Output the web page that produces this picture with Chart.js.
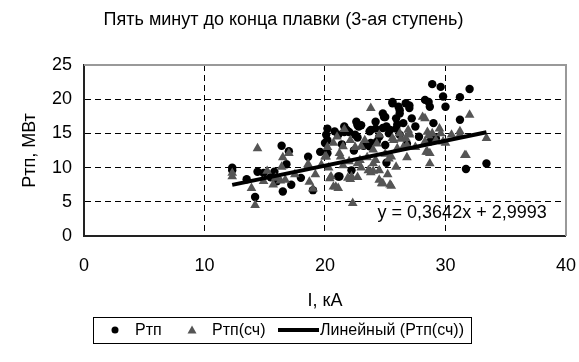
<!DOCTYPE html>
<html>
<head>
<meta charset="utf-8">
<script src="https://cdn.jsdelivr.net/npm/chart.js@4/dist/chart.umd.min.js"></script>
<style>
    html, body { margin: 0; padding: 0; background: #ffffff; }
    #wrap { width: 579px; height: 362px; position: relative; }
</style>
</head>
<body>
<div id="wrap"><canvas id="chart"></canvas></div>
<script>
// Ртп (circles)
const ptpX = [12.3, 12.3, 14.4, 14.9, 14.2, 16.4, 17.0, 16.5, 15.8, 15.5, 16.0, 18.6, 19.0, 19.6, 20.2,
    20.2, 20.0, 20.2, 20.1, 20.8, 21.1, 21.6, 22.0, 22.6, 22.8, 23.7, 23.8, 24.8, 25.0, 25.6,
    26.1, 26.2, 26.5, 27.0, 25.4, 25.9, 21.2, 22.2, 21.1, 21.6, 23.0, 23.8, 24.2, 24.5, 24.8,
    24.9, 25.6, 25.9, 26.2, 25.3, 26.2, 26.7, 27.0, 28.3, 28.6, 28.7, 28.9, 29.6, 29.8, 30.0,
    31.2, 31.2, 32.0, 31.7, 33.4, 28.7, 25.1, 29.2, 22.4, 23.2, 21.8, 22.7, 25.1, 26.0, 24.2,
    26.8, 27.5, 27.8, 24.3, 22.7, 21.4, 17.2, 18.0, 13.5, 16.8, 22.5, 27.2, 29.0, 23.7, 25.0];
const ptpY = [10.0, 9.6, 9.4, 9.2, 5.7, 13.2, 12.4, 6.5, 9.4, 8.6, 8.0, 11.6, 6.7, 12.3, 15.7,
    14.0, 13.6, 12.1, 14.8, 15.3, 14.8, 16.0, 15.2, 16.7, 16.0, 15.3, 13.6, 17.9, 17.4, 19.4,
    18.9, 17.9, 16.5, 19.1, 15.5, 15.7, 8.7, 9.6, 8.7, 15.2, 16.2, 15.5, 16.7, 14.5, 15.8,
    17.4, 19.6, 17.2, 18.4, 15.0, 14.8, 19.4, 18.7, 19.9, 19.6, 18.9, 22.2, 21.8, 20.4, 18.9,
    17.0, 20.3, 21.5, 9.8, 10.6, 13.8, 10.7, 14.3, 12.5, 13.2, 15.5, 16.2, 16.0, 16.3, 15.7,
    13.5, 16.0, 14.5, 13.8, 14.4, 13.4, 7.5, 8.5, 8.3, 10.5, 14.8, 17.2, 16.5, 13.1, 13.3];

// Ртп(сч) (triangles)
const ptpCalcX = [12.3, 12.3, 14.4, 13.9, 14.2, 14.9, 15.7, 15.9, 16.3, 16.7, 16.4, 16.5, 17.0, 18.7, 19.0,
    18.6, 19.7, 20.2, 20.5, 23.8, 21.6, 20.7, 21.2, 21.1, 22.3, 21.9, 22.7, 22.9, 23.3, 24.0,
    24.5, 24.8, 25.5, 25.2, 25.9, 25.5, 26.5, 26.9, 27.0, 22.1, 24.0, 28.3, 32.0, 29.5, 28.9,
    28.6, 31.2, 33.4, 31.7, 28.5, 28.7, 30.0, 27.0, 20.0, 20.4, 22.1, 24.7, 25.4, 24.0, 28.1,
    28.3, 28.7, 29.6, 31.2, 31.6, 20.7, 23.0, 23.5, 24.3, 25.0, 26.0, 26.3, 27.5, 21.5, 22.5,
    23.8, 26.8, 25.7, 29.2, 30.5, 22.0, 17.5, 15.2, 19.2, 24.5, 21.0, 20.3, 21.3, 21.5, 22.2,
    22.7, 23.0, 23.6, 24.2, 24.5, 25.3, 25.6, 26.2, 26.7, 26.8, 28.5, 28.4, 29.8, 18.6, 20.1,
    20.9];
const ptpCalcY = [8.7, 9.2, 12.8, 7.0, 4.5, 8.0, 7.5, 8.5, 8.1, 8.2, 10.1, 11.5, 12.1, 7.9, 6.9,
    10.5, 10.4, 13.0, 8.7, 18.7, 15.6, 13.6, 12.1, 7.0, 4.8, 8.5, 8.6, 11.1, 14.0, 10.6,
    9.6, 7.7, 7.3, 9.0, 10.1, 11.6, 13.0, 15.5, 14.8, 14.0, 12.6, 17.2, 17.7, 15.7, 15.0,
    14.7, 14.8, 14.3, 11.8, 12.3, 10.6, 13.6, 15.0, 11.6, 8.4, 8.3, 7.7, 7.5, 9.5, 17.4,
    13.8, 12.1, 15.0, 15.3, 11.8, 7.2, 10.0, 11.5, 13.5, 12.0, 12.8, 14.2, 13.0, 10.3, 13.0,
    9.3, 11.5, 14.0, 14.0, 14.8, 10.9, 9.0, 9.5, 9.0, 14.8, 14.5, 10.0, 11.6, 13.1, 8.7,
    10.6, 13.1, 9.6, 11.1, 8.2, 11.3, 14.3, 15.0, 14.3, 13.3, 15.2, 12.3, 13.8, 10.3, 11.6,
    7.2];

// Линейный (Ртп(сч)): y = 0,3642x + 2,9993
const trendSlope = 0.3642;
const trendIntercept = 2.9993;

const xTicks = [0, 10, 20, 30, 40];
const yTicks = [0, 5, 10, 15, 20, 25];

const FONT = "'Liberation Sans', Arial, sans-serif";

function toPoints(xs, ys) {
    return xs.map((x, i) => ({ x: x, y: ys[i] }));
}

const trendMinX = Math.min(...ptpCalcX);
const trendMaxX = Math.max(...ptpCalcX);
const trendData = [trendMinX, trendMaxX].map(x => ({ x: x, y: trendSlope * x + trendIntercept }));

// Gridlines at the outer edges are replaced by the frame
function gridColor(edges) {
    return function(c) {
        if (c.tick && edges.indexOf(c.tick.value) !== -1) return 'rgba(0,0,0,0)';
        return '#000000';
    };
}

// Gray frame on top and right side of the plot area
const framePlugin = {
    id: 'frame',
    beforeDatasetsDraw(chart) {
        const { ctx, chartArea: a } = chart;
        ctx.save();
        ctx.strokeStyle = '#999999';
        ctx.lineWidth = 2;
        ctx.beginPath();
        ctx.moveTo(a.left, a.top);
        ctx.lineTo(a.right, a.top);
        ctx.lineTo(a.right, a.bottom);
        ctx.stroke();
        ctx.restore();
    }
};

// Legend box below the axis title, drawn like the spreadsheet legend
const legendPlugin = {
    id: 'boxLegend',
    afterDraw(chart) {
        const ctx = chart.ctx;
        const box = { left: 93, top: 317, width: 378, height: 26 };
        const cy = box.top + box.height / 2;
        ctx.save();
        ctx.fillStyle = '#ffffff';
        ctx.fillRect(box.left, box.top, box.width, box.height);
        ctx.strokeStyle = '#000000';
        ctx.lineWidth = 1;
        ctx.strokeRect(box.left + 0.5, box.top + 0.5, box.width, box.height);

        ctx.font = '16px ' + FONT;
        ctx.textBaseline = 'middle';
        ctx.textAlign = 'left';

        const ds = chart.data.datasets;
        // circle
        ctx.fillStyle = ds[0].backgroundColor;
        ctx.beginPath();
        ctx.arc(115, cy, 3.5, 0, Math.PI * 2);
        ctx.fill();
        ctx.fillStyle = '#000000';
        ctx.fillText(ds[0].label, 135, cy + 1);

        // triangle
        ctx.fillStyle = ds[1].backgroundColor;
        ctx.beginPath();
        ctx.moveTo(192, cy - 4.5);
        ctx.lineTo(196.5, cy + 3.5);
        ctx.lineTo(187.5, cy + 3.5);
        ctx.closePath();
        ctx.fill();
        ctx.fillStyle = '#000000';
        ctx.fillText(ds[1].label, 212, cy + 1);

        // line
        ctx.strokeStyle = ds[2].borderColor;
        ctx.lineWidth = 4;
        ctx.beginPath();
        ctx.moveTo(278, cy);
        ctx.lineTo(319, cy);
        ctx.stroke();
        ctx.fillText(ds[2].label, 320, cy + 1);
        ctx.restore();
    }
};

// Trendline equation label
const equationPlugin = {
    id: 'equation',
    afterDatasetsDraw(chart) {
        const ctx = chart.ctx;
        const x = chart.scales.x.getPixelForValue(38.4);
        const y = chart.scales.y.getPixelForValue(3.4);
        ctx.save();
        ctx.font = '18px ' + FONT;
        ctx.fillStyle = '#000000';
        ctx.textAlign = 'right';
        ctx.textBaseline = 'middle';
        ctx.fillText('y = 0,3642x + 2,9993', x, y);
        ctx.restore();
    }
};

const ctx = document.getElementById('chart').getContext('2d');

new Chart(ctx, {
    type: 'scatter',
    data: {
        datasets: [{
            label: 'Ртп',
            data: toPoints(ptpX, ptpY),
            backgroundColor: '#000000',
            borderColor: '#000000',
            pointStyle: 'circle',
            pointRadius: 4.2,
            borderWidth: 0,
            order: 2
        }, {
            label: 'Ртп(сч)',
            data: toPoints(ptpCalcX, ptpCalcY),
            backgroundColor: '#555555',
            borderColor: '#555555',
            pointStyle: 'triangle',
            pointRadius: 5.6,
            borderWidth: 0,
            order: 1
        }, {
            type: 'line',
            label: 'Линейный (Ртп(сч))',
            data: trendData,
            borderColor: '#000000',
            backgroundColor: '#000000',
            borderWidth: 4,
            pointRadius: 0,
            fill: false,
            order: 0
        }]
    },
    options: {
        responsive: true,
        maintainAspectRatio: false,
        animation: false,
        layout: {
            padding: { left: 0, right: 12, top: 0, bottom: 0 }
        },
        plugins: {
            legend: { display: false },
            tooltip: { enabled: false },
            title: {
                display: true,
                text: 'Пять минут до конца плавки (3-ая ступень)',
                color: '#000000',
                font: { family: FONT, size: 18, weight: 'normal' },
                padding: { top: 9, bottom: 34.4 }
            }
        },
        scales: {
            x: {
                type: 'linear',
                min: 0,
                max: 40,
                afterBuildTicks: s => { s.ticks = xTicks.map(v => ({ value: v })); },
                afterFit: s => { s.height = 126; },
                grid: {
                    color: gridColor([0, 40]),
                    lineWidth: 1,
                    drawTicks: true,
                    tickLength: 16,
                    tickColor: 'rgba(0,0,0,0)'
                },
                border: { display: true, color: '#222222', width: 2, dash: [6, 4] },
                ticks: {
                    color: '#000000',
                    padding: 3,
                    font: { family: FONT, size: 18 }
                },
                title: {
                    display: true,
                    text: 'I, кА',
                    color: '#000000',
                    font: { family: FONT, size: 18 },
                    padding: { top: 0, bottom: 50 }
                }
            },
            y: {
                type: 'linear',
                min: 0,
                max: 25,
                afterBuildTicks: s => { s.ticks = yTicks.map(v => ({ value: v })); },
                afterFit: s => { s.width = 84; },
                grid: {
                    color: gridColor([0, 25]),
                    lineWidth: 1,
                    drawTicks: true,
                    tickLength: 9,
                    tickColor: 'rgba(0,0,0,0)'
                },
                border: { display: true, color: '#222222', width: 2, dash: [6, 4] },
                ticks: {
                    color: '#000000',
                    padding: 3,
                    font: { family: FONT, size: 18 }
                },
                title: {
                    display: true,
                    text: 'Ртп, МВт',
                    color: '#000000',
                    font: { family: FONT, size: 18 },
                    padding: { top: 19, bottom: 0 }
                }
            }
        }
    },
    plugins: [framePlugin, equationPlugin, legendPlugin]
});
</script>
</body>
</html>
